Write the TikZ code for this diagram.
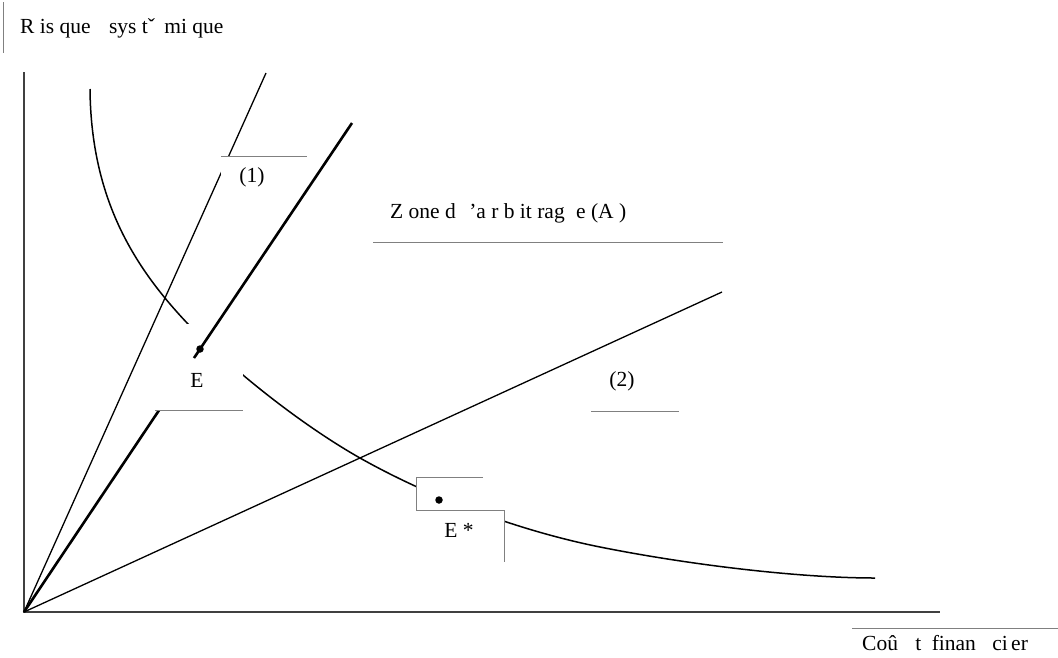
\documentclass[tikz,border=0pt]{standalone}
\usepackage{fontspec}
\setmainfont{Liberation Serif}
\begin{document}
\begin{tikzpicture}[x=1pt,y=-1pt, font=\fontsize{21.5}{25}\selectfont,
  axis/.style={draw=black!75, line width=1.8pt},
  ray/.style={draw=black, line width=1.3pt},
  thickray/.style={draw=black, line width=2.6pt},
  curvestyle/.style={draw=black, line width=1.5pt},
  boxline/.style={draw=black!50, line width=1pt},
  mask/.style={fill=white, draw=none},
  lbl/.style={inner sep=0pt, text=black},
  dotstyle/.style={circle, fill=black, inner sep=0pt, minimum size=7.5pt}]
\useasboundingbox (0,0) rectangle (1058,657);
% coordinates
\coordinate (O) at (24,612);
\coordinate (Ytop) at (24,72);
\coordinate (Xend) at (940,612);
\coordinate (T1) at (266,73);
\coordinate (T2) at (722,292);
\coordinate (Tth) at (352,123);
\coordinate (Eth) at (194,358);
\coordinate (C0) at (90,89);
\coordinate (C1) at (188,324);
\coordinate (C2) at (360,458);
\coordinate (C3) at (600,547);
\coordinate (C4) at (875,578);
% title
\draw[boxline] (3,2) -- (3,53);
\node[lbl, anchor=west] (title) at (20,28) {R is que\hspace{13pt} sys tˇ\hspace{4pt} mi que};
% curve
\draw[curvestyle] (C0) .. controls (91,200) and (135,268) .. (C1)
  .. controls (230,368) and (300,424) .. (C2)
  .. controls (440,503) and (530,533) .. (C3)
  .. controls (690,565) and (800,578) .. (C4);
% axes
\draw[axis] (Ytop) -- (O) -- (Xend);
% rays
\draw[ray] (O) -- (T1);
\draw[ray] (O) -- (T2);
\draw[thickray] (O) -- (Eth);
% masks (text boxes hiding lines)
\fill[mask] (221,156) rectangle (307,186);
\fill[mask] (155,324) rectangle (243,410);
\fill[mask] (416,477) rectangle (483,510);
\fill[mask] (416,510) rectangle (504,562);
% box borders
\draw[boxline] (221,156) -- (307,156);
\draw[boxline] (155,410) -- (243,410);
\draw[boxline] (483,477) -- (416,477) -- (416,510) -- (504,510) -- (504,562);
\draw[boxline] (373,242) -- (723,242);
\draw[boxline] (591,411) -- (679,411);
\draw[boxline] (852,628) -- (1058,628);
% thick upper ray
\draw[thickray] (Eth) -- (Tth);
% dots
\node[dotstyle] (E) at (200,349) {};
\node[dotstyle] (Estar) at (439,500) {};
% labels
\node[lbl] (l1) at (252,177) {(1)};
\node[lbl] (lE) at (197,380) {E};
\node[lbl] (lEs) at (459,530) {E *};
\node[lbl] (l2) at (622,381) {(2)};
\node[lbl, anchor=west] (zone) at (390,213) {Z one d\hspace{8pt} 'a r b it rag\hspace{6pt} e (A )};
\node[lbl, anchor=west] (cout) at (862,643) {Coû\hspace{12pt} t\hspace{5pt} finan\hspace{11pt} ci\hspace{-2pt} er};
\end{tikzpicture}
\end{document}
